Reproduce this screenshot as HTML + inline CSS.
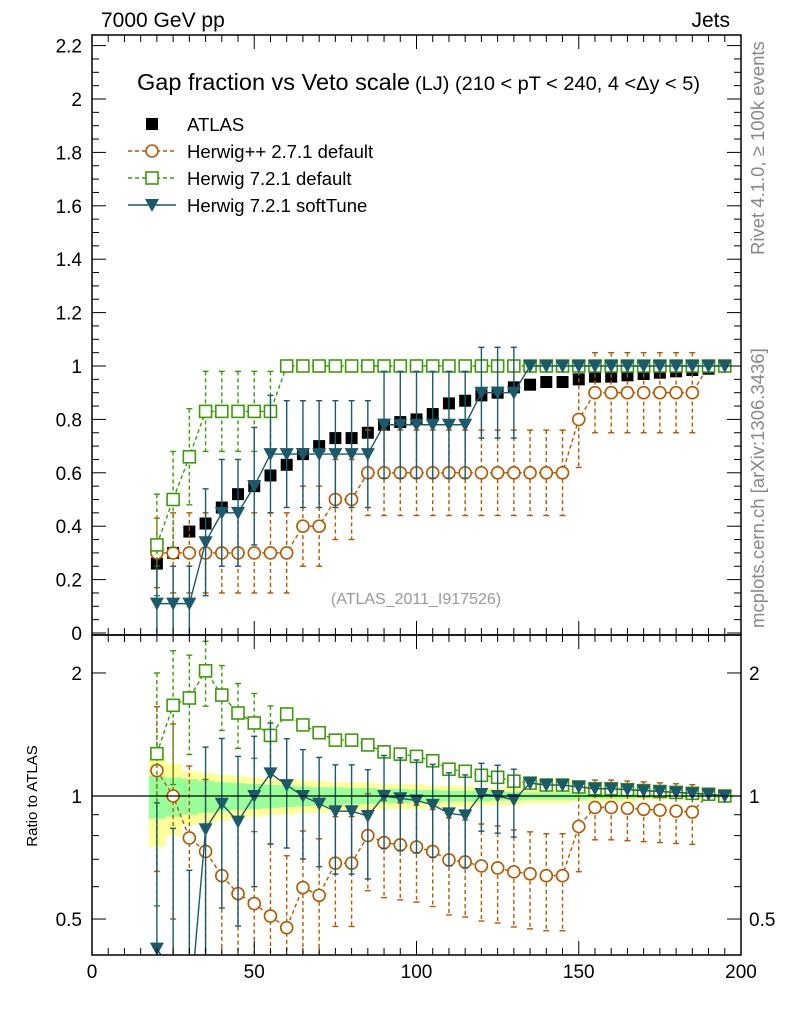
<!DOCTYPE html>
<html><head><meta charset="utf-8"><style>
html,body{margin:0;background:#fff;overflow:hidden;width:786px;height:1024px;}
svg{font-family:"Liberation Sans",sans-serif;display:block;}
</style></head><body>
<svg id="c" width="786" height="1024" xmlns="http://www.w3.org/2000/svg"></svg>
<script>
const xs=[20,25,30,35,40,45,50,55,60,65,70,75,80,85,90,95,100,105,110,115,120,125,130,135,140,145,150,155,160,165,170,175,180,185,190,195];
const atlas=[0.26,0.30,0.38,0.41,0.47,0.52,0.55,0.59,0.63,0.67,0.70,0.73,0.73,0.75,0.78,0.79,0.80,0.82,0.86,0.87,0.89,0.90,0.92,0.93,0.94,0.94,0.95,0.96,0.96,0.965,0.97,0.975,0.98,0.985,0.99,1.0];
const hpp=[0.30,0.30,0.30,0.30,0.30,0.30,0.30,0.30,0.30,0.40,0.40,0.50,0.50,0.60,0.60,0.60,0.60,0.60,0.60,0.60,0.60,0.60,0.60,0.60,0.60,0.60,0.80,0.90,0.90,0.90,0.90,0.90,0.90,0.90,1.0,1.0];
const hppErr=[0.13,0.15,0.15,0.15,0.15,0.15,0.15,0.15,0.15,0.15,0.15,0.15,0.15,0.16,0.16,0.16,0.16,0.16,0.16,0.16,0.16,0.16,0.16,0.16,0.16,0.16,0.18,0.15,0.15,0.15,0.15,0.15,0.15,0.15,0,0];
const h7=[0.33,0.50,0.66,0.83,0.83,0.83,0.83,0.83,1,1,1,1,1,1,1,1,1,1,1,1,1,1,1,1,1,1,1,1,1,1,1,1,1,1,1,1];
const h7Err=[0.19,0.18,0.18,0.15,0.15,0.15,0.15,0.15,0,0,0,0,0,0,0,0,0,0,0,0,0,0,0,0,0,0,0,0,0,0,0,0,0,0,0,0];
const soft=[0.11,0.11,0.11,0.34,0.45,0.45,0.55,0.67,0.67,0.67,0.67,0.67,0.67,0.67,0.78,0.78,0.78,0.78,0.78,0.78,0.90,0.90,0.90,1,1,1,1,1,1,1,1,1,1,1,1,1];
const softErr=[0.14,0.14,0.14,0.2,0.2,0.2,0.22,0.22,0.2,0.2,0.2,0.2,0.2,0.2,0.2,0.2,0.2,0.2,0.2,0.2,0.17,0.17,0.17,0,0,0,0,0,0,0,0,0,0,0,0,0];
const bandTot=[0.25,0.2,0.15,0.14,0.13,0.12,0.11,0.1,0.1,0.09,0.09,0.08,0.08,0.08,0.07,0.07,0.07,0.06,0.06,0.06,0.05,0.05,0.05,0.04,0.04,0.04,0.03,0.03,0.03,0.03,0.02,0.02,0.02,0.02,0.015,0.01];
const bandStat=[0.12,0.11,0.1,0.09,0.08,0.075,0.07,0.065,0.06,0.055,0.05,0.05,0.045,0.045,0.04,0.04,0.035,0.035,0.03,0.03,0.03,0.025,0.025,0.02,0.02,0.02,0.02,0.015,0.015,0.015,0.01,0.01,0.01,0.01,0.01,0.01];
const yTicks=[0,0.2,0.4,0.6,0.8,1,1.2,1.4,1.6,1.8,2,2.2];
const xTicks=[0,50,100,150,200];
const rTicks=[0.5,1,2];

const NS="http://www.w3.org/2000/svg",svg=document.getElementById('c');
const L=92,R=741,MT=35,MB=635,RB=955;
const X=v=>L+v*(R-L)/200;
const Y=v=>633-v*267;
const RY=r=>796-177.5*Math.log(r);
function el(t,a,p){const e=document.createElementNS(NS,t);for(const k in a)e.setAttribute(k,a[k]);(p||svg).appendChild(e);return e;}
const defs=el('defs',{});
const c1=el('clipPath',{id:'cm'},defs);el('rect',{x:L,y:MT,width:R-L,height:MB-MT},c1);
const c2=el('clipPath',{id:'cr'},defs);el('rect',{x:L,y:MB,width:R-L,height:RB-MB},c2);
const gM=el('g',{'clip-path':'url(#cm)'});


const gR=el('g',{'clip-path':'url(#cr)'});



xs.forEach((x,i)=>{
  const y=el('rect',{x:X(x-2.5),width:X(5)-X(0)+0.5,y:RY(1+bandTot[i]),height:RY(1-bandTot[i])-RY(1+bandTot[i]),fill:'#ffff99'},gR);
  
  
});
xs.forEach((x,i)=>{
  const g=el('rect',{x:X(x-2.5),width:X(5)-X(0)+0.5,y:RY(1+bandStat[i]),height:RY(1-bandStat[i])-RY(1+bandStat[i]),fill:'#99ff99'},gR);
  
  
});
const one=el('line',{x1:L,x2:R,y1:RY(1),y2:RY(1),stroke:'#000','stroke-width':1.3});



function marker(g,type,cx,cy,col){
  let m;
  if(type==='circ')m=el('circle',{cx,cy,r:6,fill:'#fff',stroke:col,'stroke-width':1.6},g);
  else if(type==='sq')m=el('rect',{x:cx-6,y:cy-6,width:12,height:12,fill:'#fff',stroke:col,'stroke-width':1.6},g);
  else if(type==='tri')m=el('path',{d:`M${cx-7},${cy-6}L${cx+7},${cy-6}L${cx},${cy+7}Z`,fill:col},g);
  else m=el('rect',{x:cx-6,y:cy-6,width:12,height:12,fill:'#000'},g);
  return m;
}
function series(g,vals,errs,yf,col,type,dash,name,ratio){
  const pts=xs.map((x,i)=>[X(x),yf(ratio?vals[i]/atlas[i]:vals[i])]);
  const sg=el('g',{},g);
  
  
  xs.forEach((x,i)=>{
    if(!errs[i])return;
    const v=vals[i],e=errs[i];
    let lo=v-e,hi=v+e;
    if(ratio){lo=Math.max(lo,0.01)/atlas[i];hi=hi/atlas[i];}
    const px=X(x),y1=yf(hi),y2=yf(lo);
    el('line',{x1:px,x2:px,y1,y2,stroke:col,'stroke-width':1.4,'stroke-dasharray':dash?'4,3':''},sg);
    el('line',{x1:px-3,x2:px+3,y1,y2:y1,stroke:col,'stroke-width':1.4},sg);
    el('line',{x1:px-3,x2:px+3,y1:y2,y2,stroke:col,'stroke-width':1.4},sg);
  });
  el('polyline',{points:pts.map(p=>p.join(',')).join(' '),fill:'none',stroke:col,'stroke-width':1.4,'stroke-dasharray':dash?'4,3':''},sg);
  pts.forEach(p=>{const m=marker(sg,type,p[0],p[1],col);
    
    });
}
const cO='#b35900',cG='#3d9a0a',cB='#1a5a6a';
const ag=el('g',{},gM);


xs.forEach((x,i)=>{const m=marker(ag,'data',X(x),Y(atlas[i]));
  
  });
series(gM,hpp,hppErr,Y,cO,'circ',true,'herwigpp-271-series',false);
series(gM,h7,h7Err,Y,cG,'sq',true,'herwig-721-default-series',false);
series(gM,soft,softErr,Y,cB,'tri',false,'herwig-721-softtune-series',false);
series(gR,hpp,hppErr,RY,cO,'circ',true,'ratio-herwigpp-271',true);
series(gR,h7,h7Err,RY,cG,'sq',true,'ratio-herwig-721-default',true);
series(gR,soft,softErr,RY,cB,'tri',false,'ratio-herwig-721-softtune',true);

const f1=el('rect',{x:L,y:MT,width:R-L,height:MB-MT,fill:'none',stroke:'#000','stroke-width':1.5});

const f2=el('rect',{x:L,y:MB,width:R-L,height:RB-MB,fill:'none',stroke:'#000','stroke-width':1.5});


function txt(s,a,name){const t=el('text',a);t.textContent=s;return t;}
for(let v=0;v<=2.25;v+=0.05){const y=Y(v);if(y<MT)break;const maj=Math.abs(v/0.2-Math.round(v/0.2))<1e-6;
  el('line',{x1:L,x2:L+(maj?14:7),y1:y,y2:y,stroke:'#000'});el('line',{x1:R,x2:R-(maj?14:7),y1:y,y2:y,stroke:'#000'});}
yTicks.forEach(v=>txt(String(v),{x:82,y:Y(v)+7,'font-size':19,'text-anchor':'end'},'y-tick-label'));
for(let v=0;v<=200;v+=5){const x=X(v);const maj=v%50===0;
  el('line',{x1:x,x2:x,y1:RB,y2:RB-(maj?14:7),stroke:'#000'});
  el('line',{x1:x,x2:x,y1:MT,y2:MT+(maj?14:7),stroke:'#000'});
  el('line',{x1:x,x2:x,y1:MB,y2:MB+(maj?14:7),stroke:'#000'});
  el('line',{x1:x,x2:x,y1:MB,y2:MB-(maj?14:7),stroke:'#000'});}
xTicks.forEach(v=>txt(String(v),{x:X(v),y:978,'font-size':19,'text-anchor':'middle'},'x-tick-label'));
[0.5,0.6,0.7,0.8,0.9,1,2].forEach(r=>{const y=RY(r),maj=rTicks.includes(r);
  el('line',{x1:L,x2:L+(maj?14:7),y1:y,y2:y,stroke:'#000'});el('line',{x1:R,x2:R-(maj?14:7),y1:y,y2:y,stroke:'#000'});});
rTicks.forEach(r=>{txt(String(r),{x:82,y:RY(r)+7,'font-size':19,'text-anchor':'end'},'ratio-tick-label-left');
  txt(String(r),{x:749,y:RY(r)+7,'font-size':19},'ratio-tick-label-right');});

txt('7000 GeV pp',{x:101,y:27,'font-size':21},'energy-label');
txt('Jets',{x:730,y:27,'font-size':21,'text-anchor':'end'},'process-label');
txt('Gap fraction vs Veto scale',{x:137,y:90,'font-size':23.5},'plot-title');
txt('(LJ) (210 < pT < 240, 4 <Δy < 5)',{x:415,y:90,'font-size':19.5,textLength:285,lengthAdjust:'spacingAndGlyphs'},'plot-subtitle');
txt('(ATLAS_2011_I917526)',{x:416,y:604,'font-size':16,fill:'#999','text-anchor':'middle'},'analysis-id');
txt('Rivet 4.1.0, ≥ 100k events',{x:0,y:0,'font-size':18.5,fill:'#888',transform:'translate(764,255) rotate(-90)'},'rivet-label');
txt('mcplots.cern.ch [arXiv:1306.3436]',{x:0,y:0,'font-size':18.5,fill:'#888',transform:'translate(764,628) rotate(-90)'},'mcplots-label');
txt('Ratio to ATLAS',{x:0,y:0,'font-size':15,'text-anchor':'middle',transform:'translate(37,796) rotate(-90)'},'ratio-axis-title');

const leg=[['ATLAS','data','#000',false,'legend-atlas'],['Herwig++ 2.7.1 default','circ',cO,true,'legend-herwigpp'],['Herwig 7.2.1 default','sq',cG,true,'legend-herwig7-default'],['Herwig 7.2.1 softTune','tri',cB,false,'legend-herwig7-softtune']];
leg.forEach((l,i)=>{const y=124+i*27;const g=el('g',{});
  if(i>0)el('line',{x1:128,x2:176,y1:y,y2:y,stroke:l[2],'stroke-width':1.4,'stroke-dasharray':l[3]?'4,3':''},g);
  marker(g,l[1],152,y,l[2]);
  const t=el('text',{x:187,y:y+7,'font-size':18.5},g);t.textContent=l[0];});
</script>
</body></html>
